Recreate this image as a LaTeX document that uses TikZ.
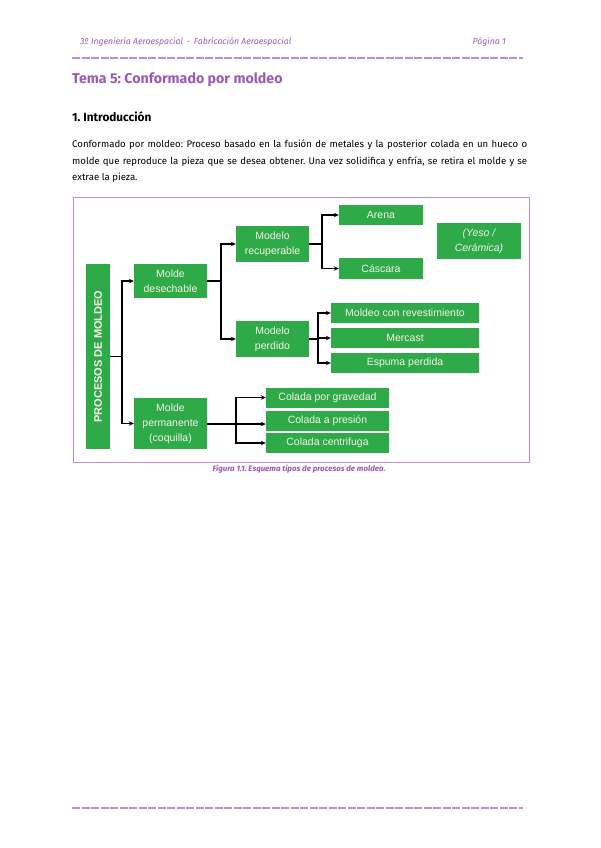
\documentclass[tikz,border=0pt]{standalone}
\usepackage{fontspec}
\setmainfont{Fira Sans}
\newfontfamily\arialfont{Liberation Sans}
\usetikzlibrary{arrows.meta}
\definecolor{morado}{HTML}{9B59B6}
\definecolor{moradoclaro}{HTML}{B98FD0}
\definecolor{verde}{HTML}{2EAA48}
\definecolor{crema}{HTML}{F4F6E6}
\frenchspacing
\tikzset{
  caja/.style={fill=verde, text=crema, font=\arialfont\fontsize{10.5}{15}\selectfont,
    align=center, inner sep=0pt},
  flecha/.style={line width=1.1pt, -{Stealth[length=5pt,width=4.5pt]}},
  linea/.style={line width=1.1pt},
  raya/.style={moradoclaro, line width=1.4pt, dash pattern=on 8pt off 1.5pt}
}
\begin{document}
\begin{tikzpicture}[x=1pt,y=-1pt]
  \useasboundingbox (0,0) rectangle (600,848);

  % cabecera
  \node[anchor=west, inner sep=0pt, text=morado, font=\fontsize{8.7}{10}\selectfont\itshape] (cab) at (80,42)
    {3º Ingeniería Aeroespacial \,-\, Fabricación Aeroespacial};
  \node[anchor=east, inner sep=0pt, text=morado, font=\fontsize{8.7}{10}\selectfont\itshape] (pag) at (506,42) {Página 1};
  \draw[raya] (72,58) -- (523,58);

  % titulo y texto
  \node[anchor=west, inner sep=0pt, text=morado, font=\fontsize{14.2}{17}\selectfont\bfseries] (tema) at (72,80)
    {Tema 5: Conformado por moldeo};
  \node[anchor=west, inner sep=0pt, font=\fontsize{11.8}{14}\selectfont\bfseries] (intro) at (72,117)
    {1. Introducción};
  \node[anchor=north west, inner sep=0pt, text width=455pt, align=justify,
    font=\fontsize{9.6}{16.5}\selectfont] (parrafo) at (72,140)
    {Conformado por moldeo: Proceso basado en la fusión de metales y la posterior colada en un hueco o\linebreak
     molde que reproduce la pieza que se desea obtener. Una vez solidifica y enfría, se retira el molde y se\linebreak
     extrae la pieza.};

  % marco de la figura
  \draw[moradoclaro, line width=1pt] (73,197) rectangle (529,462);

  % cajas
  \node[caja, minimum width=24pt, minimum height=185pt] (procesos) at (98,356.5) {};
  \node[rotate=90, text=crema, font=\arialfont\fontsize{11}{13}\selectfont\bfseries] (proclab) at (procesos) {PROCESOS DE MOLDEO};
  \node[caja, minimum width=73pt, minimum height=34pt] (desechable) at (170.5,281) {Molde\\desechable};
  \node[caja, minimum width=73pt, minimum height=51pt] (permanente) at (170.5,423.5) {Molde\\permanente\\(coquilla)};
  \node[caja, minimum width=73pt, minimum height=36pt] (recuperable) at (272.5,244) {Modelo\\recuperable};
  \node[caja, minimum width=73pt, minimum height=36pt] (perdido) at (272.5,339) {Modelo\\perdido};
  \node[caja, minimum width=84pt, minimum height=20pt] (arena) at (381,215) {Arena};
  \node[caja, minimum width=84pt, minimum height=21pt] (cascara) at (381,268.5) {Cáscara};
  \node[caja, minimum width=84pt, minimum height=36pt, font=\arialfont\fontsize{10.5}{15}\selectfont\itshape] (yeso) at (479,241) {(Yeso /\\Cerámica)};
  \node[caja, minimum width=148pt, minimum height=20pt] (revest) at (405,313) {Moldeo con revestimiento};
  \node[caja, minimum width=148pt, minimum height=20pt] (mercast) at (405,338) {Mercast};
  \node[caja, minimum width=148pt, minimum height=20pt] (espuma) at (405,363) {Espuma perdida};
  \node[caja, minimum width=123pt, minimum height=20pt] (gravedad) at (327.5,397.5) {Colada por gravedad};
  \node[caja, minimum width=123pt, minimum height=20pt] (presion) at (327.5,420.5) {Colada a presión};
  \node[caja, minimum width=123pt, minimum height=20pt] (centrifuga) at (327.5,443) {Colada centrifuga};

  % conexiones
  \coordinate (r1) at (122,356.5);
  \draw[linea] (procesos.east |- r1) -- (r1);
  \draw[flecha] (r1) |- (desechable.west);
  \draw[flecha] (r1) |- (permanente.west);

  \coordinate (r2) at (221,281);
  \draw[linea] (desechable.east) -- (r2);
  \draw[flecha] (r2) |- (recuperable.west);
  \draw[flecha] (r2) |- (perdido.west);

  \coordinate (r3) at (322,244);
  \draw[linea] (recuperable.east) -- (r3);
  \draw[flecha] (r3) |- (arena.west);
  \draw[flecha] (r3) |- (cascara.west);

  \coordinate (r4) at (318,339);
  \draw[linea] (perdido.east) -- (r4);
  \draw[flecha] (r4) |- (revest.west);
  \draw[flecha] (r4) |- (mercast.west);
  \draw[flecha] (r4) |- (espuma.west);

  \coordinate (r5) at (236,424);
  \draw[linea] (permanente.east |- r5) -- (r5);
  \draw[flecha] (r5) |- (gravedad.west);
  \draw[flecha] (r5) |- (centrifuga.west);
  \draw[flecha, line width=1.6pt] (permanente.east |- r5) -- (presion.west |- r5);

  % pie de figura
  \node[text=morado, font=\fontsize{7.9}{9}\selectfont\itshape\bfseries] (pie) at (299,469)
    {Figura 1.1. Esquema tipos de procesos de moldeo.};

  % pie de pagina
  \draw[raya] (72,808) -- (523,808);
\end{tikzpicture}
\end{document}
